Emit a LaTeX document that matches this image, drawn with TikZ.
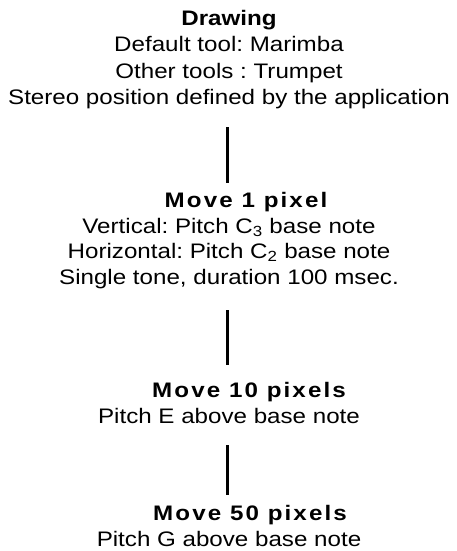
\documentclass[tikz,border=0pt]{standalone}
\usepackage{fontspec}
\setmainfont{Liberation Sans}[FakeStretch=1.15]
\newfontfamily\headfont{Liberation Sans}[FakeStretch=1.15,LetterSpace=10,BoldFont={Liberation Sans Bold}]
\frenchspacing
\begin{document}
\begin{tikzpicture}[x=1pt,y=-1pt,
  txt/.style={inner sep=0pt,anchor=base,text height=15pt,text depth=4pt,
    font=\fontsize{21pt}{26pt}\selectfont},
  head/.style={txt,font=\fontsize{21pt}{26pt}\selectfont\bfseries},
  headls/.style={txt,font=\fontsize{21pt}{26pt}\headfont\bfseries},
  conn/.style={line width=2.6pt}]
\useasboundingbox (0,0) rectangle (457,551);
\coordinate (axis) at (227.5,0);
\node[head]   (a1) at (229,26)  {Drawing};
\node[txt]    (a2) at (229,52)  {Default tool: Marimba};
\node[txt]    (a3) at (229,78)  {Other tools : Trumpet};
\node[txt]    (a4) at (229,104) {Stereo position defined by the application};
\node[headls] (b1) at (246,207) {Move 1 pixel};
\node[txt]    (b2) at (229,233) {Vertical: Pitch C\textsubscript{3} base note};
\node[txt]    (b3) at (229,258.5) {Horizontal: Pitch C\textsubscript{2} base note};
\node[txt]    (b4) at (229,284) {Single tone, duration 100 msec.};
\node[headls] (c1) at (249,397) {Move 10 pixels};
\node[txt]    (c2) at (229,423) {Pitch E above base note};
\node[headls] (d1) at (250,520) {Move 50 pixels};
\node[txt]    (d2) at (229,546) {Pitch G above base note};
\draw[conn] ([yshift=-19pt]a4.south -| axis) -- ([yshift=9pt]b1.north -| axis);
\draw[conn] ([yshift=-22pt]b4.south -| axis) -- ([yshift=17pt]c1.north -| axis);
\draw[conn] ([yshift=-18pt]c2.south -| axis) -- ([yshift=10pt]d1.north -| axis);
\end{tikzpicture}
\end{document}
